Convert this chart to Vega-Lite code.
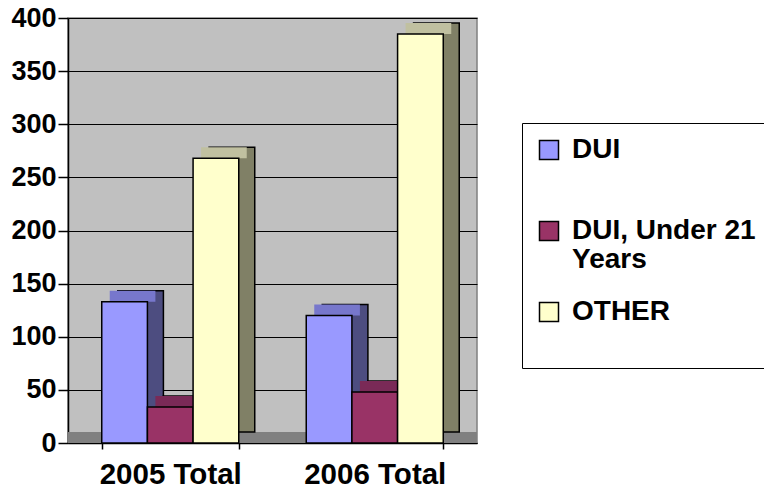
{
  "$schema": "https://vega.github.io/schema/vega-lite/v6.json",
  "autosize": {"type": "none"},
  "padding": {"left": 68, "top": 18, "right": 287, "bottom": 52},
  "width": 409,
  "height": 425,
  "background": "white",
  "config": {
    "font": "Liberation Sans",
    "view": {"fill": "#C0C0C0", "stroke": "#808080", "strokeWidth": 1.5}
  },
  "data": {
    "values": [
      {"year": "2005 Total", "type": "DUI", "value": 133},
      {"year": "2005 Total", "type": "DUI, Under 21 Years", "value": 34},
      {"year": "2005 Total", "type": "OTHER", "value": 268},
      {"year": "2006 Total", "type": "DUI", "value": 120},
      {"year": "2006 Total", "type": "DUI, Under 21 Years", "value": 48},
      {"year": "2006 Total", "type": "OTHER", "value": 385}
    ]
  },
  "encoding": {
    "x": {
      "field": "year", "type": "nominal", "title": null,
      "scale": {"paddingInner": 0.33, "paddingOuter": 0.165},
      "axis": {
        "labelAngle": 0, "labelFontSize": 29.5, "labelFontWeight": "bold", "labelColor": "black",
        "domainColor": "black", "domainWidth": 1.5, "tickColor": "black", "tickWidth": 1.5,
        "tickSize": 6, "tickBand": "extent", "labelPadding": 11
      }
    },
    "y": {
      "field": "value", "type": "quantitative", "title": null,
      "scale": {"domain": [0, 400], "nice": false},
      "axis": {
        "values": [0, 50, 100, 150, 200, 250, 300, 350, 400],
        "labelFontSize": 27, "labelFontWeight": "bold", "labelColor": "black",
        "domainColor": "black", "domainWidth": 1.5, "tickColor": "black", "tickWidth": 1.5,
        "tickSize": 10, "labelPadding": 2,
        "grid": true, "gridColor": "black", "gridWidth": 1.2
      }
    }
  },
  "layer": [
    {
      "data": {"values": [{"base": 0}]},
      "mark": {"type": "rect", "color": "#808080", "y2Offset": -11},
      "encoding": {
        "x": null,
        "y": {"field": "base", "type": "quantitative"},
        "y2": {"field": "base"}
      }
    },
    {
      "mark": {"type": "bar", "yOffset": -11, "y2Offset": -11, "stroke": "black", "strokeWidth": 1.5},
      "encoding": {
        "xOffset": {
          "field": "type", "type": "nominal",
          "scale": {"paddingInner": 0, "paddingOuter": 0, "range": [16, 153]}
        },
        "color": {
          "field": "type", "type": "nominal", "legend": null,
          "scale": {"domain": ["DUI", "DUI, Under 21 Years", "OTHER"], "range": ["#4D4D80", "#772953", "#808066"]}
        }
      }
    },
    {
      "mark": {"type": "bar", "yOffset": -11},
      "encoding": {
        "xOffset": {
          "field": "type", "type": "nominal",
          "scale": {"paddingInner": 0, "paddingOuter": 0, "range": [8, 145]}
        },
        "y2": {"field": "value"},
        "color": {
          "field": "type", "type": "nominal", "legend": null,
          "scale": {"domain": ["DUI", "DUI, Under 21 Years", "OTHER"], "range": ["#7777CC", "#7A2A57", "#C0C0A0"]}
        }
      }
    },
    {
      "mark": {"type": "bar", "stroke": "black", "strokeWidth": 1.5, "opacity": 1},
      "encoding": {
        "xOffset": {
          "field": "type", "type": "nominal",
          "scale": {"paddingInner": 0, "paddingOuter": 0}
        },
        "color": {
          "field": "type", "type": "nominal", "title": null,
          "scale": {"domain": ["DUI", "DUI, Under 21 Years", "OTHER"], "range": ["#9999FF", "#993366", "#FFFFCC"]},
          "legend": {
            "orient": "none", "legendX": 454, "legendY": 105,
            "direction": "vertical",
            "padding": 13, "strokeColor": "black", "fillColor": "white",
            "symbolType": "square", "symbolSize": 361, "symbolStrokeColor": "black", "symbolStrokeWidth": 1.5,
            "symbolOpacity": 1,
            "labelFontSize": 28, "labelFontWeight": "bold", "labelColor": "black", "labelLimit": 300,
            "labelOffset": 9, "rowPadding": 24,
            "labelExpr": "datum.label == 'DUI, Under 21 Years' ? ['DUI, Under 21', 'Years'] : [datum.label, ' ']",
            "encode": {"labels": {"update": {"lineHeight": {"value": 29}}}}
          }
        }
      }
    }
  ],
  "resolve": {"scale": {"color": "independent", "xOffset": "independent"}, "legend": {"color": "independent"}}
}
